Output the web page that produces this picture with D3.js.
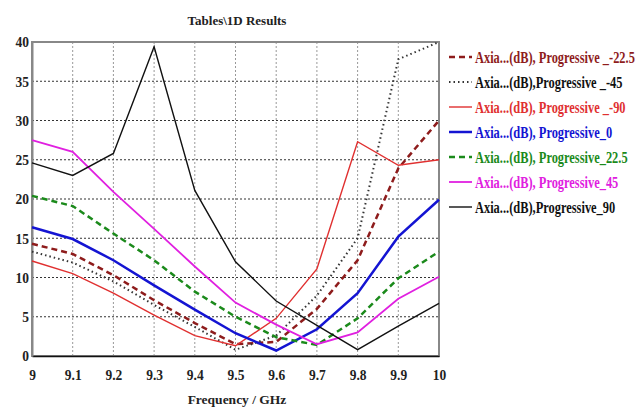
<!DOCTYPE html>
<html>
<head>
<meta charset="utf-8">
<script src="https://cdn.jsdelivr.net/npm/d3@7"></script>
<style>
  body { margin: 0; background: #fff; }
  text { font-family: "Liberation Serif", "DejaVu Serif", serif; font-weight: bold; }
</style>
</head>
<body>
<svg id="chart" width="636" height="409"></svg>
<script>
//
// Data
//

var freqs = [9, 9.1, 9.2, 9.3, 9.4, 9.5, 9.6, 9.7, 9.8, 9.9, 10]
var xTicks = [9, 9.1, 9.2, 9.3, 9.4, 9.5, 9.6, 9.7, 9.8, 9.9, 10]
var yTicks = [0, 5, 10, 15, 20, 25, 30, 35, 40]

var seriesNames = [
  'Axia...(dB), Progressive _-22.5',
  'Axia...(dB),Progressive _-45',
  'Axia...(dB), Progressive _-90',
  'Axia...(dB), Progressive_0',
  'Axia...(dB), Progressive_22.5',
  'Axia...(dB), Progressive_45',
  'Axia...(dB),Progressive_90'
]

var progM22 = [14.3, 13.0, 10.3, 7.1, 4.2, 1.5, 1.8, 6.0, 12.2, 23.9, 30.0]
var progM45 = [13.3, 11.9, 9.5, 6.5, 3.7, 0.8, 2.6, 7.7, 15.0, 37.8, 40.0]
var progM90 = [12.1, 10.5, 8.0, 5.2, 2.6, 1.3, 4.8, 11.1, 27.3, 24.3, 25.0]
var prog0 = [16.4, 14.9, 12.2, 9.0, 5.9, 2.9, 0.7, 3.4, 8.0, 15.2, 19.9]
var prog22 = [20.4, 19.1, 15.6, 12.2, 8.2, 5.0, 2.4, 1.4, 4.8, 9.9, 13.3]
var prog45 = [27.5, 26.0, 20.9, 16.2, 11.4, 6.8, 4.0, 1.5, 3.0, 7.3, 10.1]
var prog90 = [24.6, 23.0, 25.8, 39.4, 21.1, 12.0, 7.0, 3.9, 0.8, 3.8, 6.7]

var seriesValues = [progM22, progM45, progM90, prog0, prog22, prog45, prog90]

// styles
var colors = ['#8e1c1c', '#333333', '#e03030', '#1414d2', '#1b8a1b', '#e020e0', '#111111']
var textColors = ['#8e1c1c', '#111111', '#e03030', '#1414d2', '#1b8a1b', '#e020e0', '#111111']
var widths = [2.5, 2, 1.4, 2.5, 2.5, 1.8, 1.4]
var dashes = ['6,4', '1.5,3', null, null, '6,4', null, null]

//
// Layout
//

var svg = d3.select('#chart')
var plotLeft = 32, plotRight = 439, plotTop = 42, plotBottom = 356

var x = d3.scaleLinear().domain([9, 10]).range([plotLeft, plotRight])
var y = d3.scaleLinear().domain([0, 40]).range([plotBottom, plotTop])

// grid
svg.append('g').selectAll('line').data(xTicks.slice(1, -1)).enter().append('line')
  .attr('x1', d => x(d)).attr('x2', d => x(d))
  .attr('y1', plotTop).attr('y2', plotBottom)
  .attr('stroke', '#999').attr('stroke-width', 1).attr('stroke-dasharray', '2,2')

svg.append('g').selectAll('line').data(yTicks.slice(1, -1)).enter().append('line')
  .attr('x1', plotLeft).attr('x2', plotRight)
  .attr('y1', d => y(d)).attr('y2', d => y(d))
  .attr('stroke', '#333').attr('stroke-width', 1).attr('stroke-dasharray', '2,2')

// frame
svg.append('rect')
  .attr('x', plotLeft).attr('y', plotTop)
  .attr('width', plotRight - plotLeft).attr('height', plotBottom - plotTop)
  .attr('fill', 'none').attr('stroke', '#888').attr('stroke-width', 2)

// axes (tick text slightly condensed, like the original's font)
var xAxis = svg.append('g')
  .attr('transform', 'translate(0,' + plotBottom + ')')
  .call(d3.axisBottom(x).tickValues(xTicks).tickFormat(d3.format('')).tickSize(0).tickPadding(0))
xAxis.select('.domain').attr('stroke', '#111').attr('stroke-width', 1.5)
xAxis.selectAll('text').attr('font-size', 15).attr('fill', '#222')
  .attr('dy', null).attr('y', null)
  .attr('transform', 'translate(0,24) scale(0.9,1)')
  .style('font-family', '"Liberation Serif", serif').style('font-weight', 'bold')

var yAxis = svg.append('g')
  .attr('transform', 'translate(' + plotLeft + ',0)')
  .call(d3.axisLeft(y).tickValues(yTicks).tickSize(0).tickPadding(0))
yAxis.select('.domain').attr('stroke', '#888').attr('stroke-width', 2)
yAxis.selectAll('text').attr('font-size', 15).attr('fill', '#222')
  .attr('x', null)
  .attr('transform', 'translate(-3,0) scale(0.9,1)')
  .style('font-family', '"Liberation Serif", serif').style('font-weight', 'bold')

// lines
var line = d3.line().x((d, i) => x(freqs[i])).y(d => y(d))

svg.append('g').selectAll('path').data(seriesValues).enter().append('path')
  .attr('d', line)
  .attr('fill', 'none')
  .attr('stroke', (d, i) => colors[i])
  .attr('stroke-width', (d, i) => widths[i])
  .attr('stroke-dasharray', (d, i) => dashes[i])

// title and label
svg.append('text').attr('x', 237).attr('y', 25).attr('text-anchor', 'middle')
  .attr('font-size', 13).attr('fill', '#222').text('Tables\\1D Results')

svg.append('text').attr('x', 237).attr('y', 404).attr('text-anchor', 'middle')
  .attr('font-size', 13.5).attr('fill', '#222').text('Frequency / GHz')

// legend
var legend = svg.append('g').selectAll('g').data(seriesNames).enter().append('g')
  .attr('transform', (d, i) => 'translate(449,' + (57 + i * 25) + ')')

legend.append('line')
  .attr('x1', 0).attr('x2', 23).attr('y1', 0).attr('y2', 0)
  .attr('stroke', (d, i) => colors[i])
  .attr('stroke-width', (d, i) => widths[i])
  .attr('stroke-dasharray', (d, i) => dashes[i])

// the legend font is narrower than any installed serif, so squeeze it
var legendText = legend.append('text')
  .attr('font-size', 16)
  .attr('fill', (d, i) => textColors[i])
  .text(d => d)
var squeeze = 160 / legendText.nodes()[0].getComputedTextLength()
legendText.attr('transform', 'translate(26,5.5) scale(' + squeeze + ',1)')
</script>
</body>
</html>
